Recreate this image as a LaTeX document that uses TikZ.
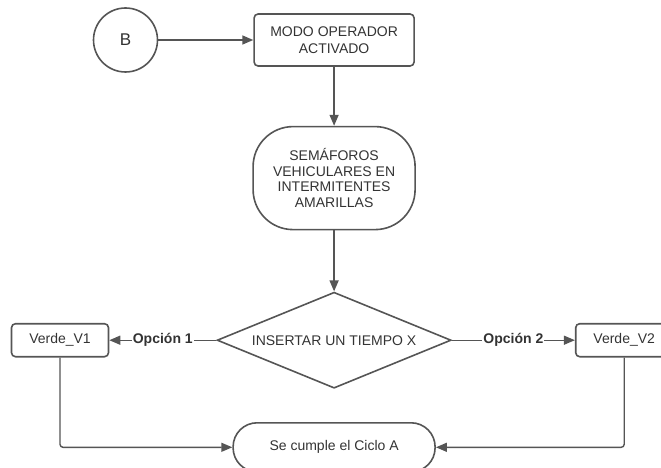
\documentclass[tikz,border=0pt]{standalone}
\usepackage{fontspec}
\setmainfont{Liberation Sans}
\usetikzlibrary{
  shapes.geometric,
  arrows.meta,
  positioning
}
\definecolor{linecol}{HTML}{555555}
\definecolor{textcol}{HTML}{333333}
\tikzset{
  base/.style={
    text=textcol,
    font=\fontsize{14}{16.5}\selectfont,
    align=center,
    inner sep=0pt,
    draw=linecol,
    line width=1.6pt,
  },
  connector/.style={
    base,
    circle,
    minimum size=64pt,
    font=\fontsize{17}{20}\selectfont,
  },
  proc/.style={
    base,
    rounded corners=4pt,
    minimum width=#1,
    minimum height=33pt,
  },
  proc/.default=97pt,
  term/.style={
    base,
    rounded corners=#1,
  },
  decision/.style={
    base,
    diamond,
    shape aspect=2.44,
    minimum width=234pt,
    minimum height=96pt,
  },
  flow/.style={
    -{Triangle[length=11pt, width=9pt]},
    line width=1.4pt,
    draw=linecol,
  },
  elabel/.style={
    font=\fontsize{14}{16.5}\selectfont\bfseries,
    text=textcol,
    fill=white,
    inner sep=1pt,
  },
}

\begin{document}
\begin{tikzpicture}[x=1pt, y=1pt]

\clip (0,0) rectangle (661,-468);

% === Top: connector + operator mode ===

\node[connector] at (125.5,-40)
  (b) {B};

\node[proc=160pt, minimum height=52pt, right=95pt of b]
  (modo) {MODO OPERADOR\\ACTIVADO};

\draw[flow] (b) -- (modo);

% === Middle: traffic lights + decision ===

\node[term=40pt, minimum width=162pt, minimum height=103pt,
  font=\fontsize{14}{15.5}\selectfont, below=59pt of modo]
  (sem) {SEM\'AFOROS\\VEHICULARES EN\\INTERMITENTES\\AMARILLAS};

\node[decision, below=61pt of sem]
  (tiempo) {INSERTAR UN TIEMPO X};

\draw[flow] (modo) -- (sem);
\draw[flow] (sem) -- (tiempo);

% === Options ===

\node[proc, left=107pt of tiempo]
  (v1) {Verde\_V1};

\node[proc, right=123pt of tiempo]
  (v2) {Verde\_V2};

\draw[flow] (tiempo) -- node[elabel] {Opci\'on 1} (v1);
\draw[flow] (tiempo) -- node[elabel] {Opci\'on 2} (v2);

% === Bottom: end of cycle ===

\node[term=24pt, minimum width=202pt, minimum height=49pt, below=33pt of tiempo]
  (ciclo) {Se cumple el Ciclo A};

\draw[flow, rounded corners=3pt] (v1) |- (ciclo);
\draw[flow, rounded corners=3pt] (v2) |- (ciclo);

\end{tikzpicture}
\end{document}
